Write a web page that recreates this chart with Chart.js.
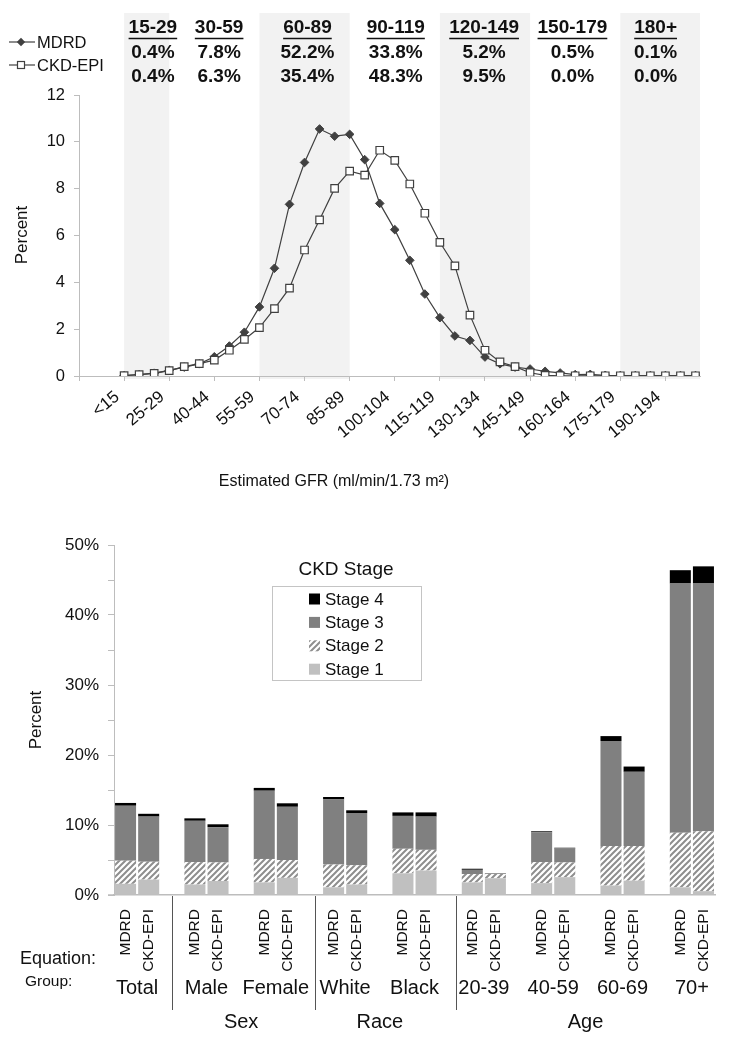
<!DOCTYPE html>
<html>
<head>
<meta charset="utf-8">
<title>eGFR distribution and CKD prevalence</title>
<script src="https://cdn.jsdelivr.net/npm/chart.js@4/dist/chart.umd.min.js"></script>
<style>
  body { margin: 0; background: #fff; }
  canvas { display: block; }
</style>
</head>
<body>
<canvas id="gfrChart" width="738" height="500"></canvas>
<canvas id="ckdChart" width="738" height="550"></canvas>
<script>
// ---- top panel: distribution of estimated GFR ----
const gfrCategories = [
  '<15', '15-19', '20-24', '25-29', '30-34', '35-39', '40-44', '45-49', '50-54', '55-59',
  '60-64', '65-69', '70-74', '75-79', '80-84', '85-89', '90-94', '95-99', '100-104', '105-109',
  '110-114', '115-119', '120-124', '125-129', '130-134', '135-139', '140-144', '145-149', '150-154', '155-159',
  '160-164', '165-169', '170-174', '175-179', '180-184', '185-189', '190-194', '195-199', '200+'
];
const mdrdPct = [
  0.02, 0.06, 0.12, 0.24, 0.38, 0.52, 0.82, 1.28, 1.87, 2.95,
  4.60, 7.33, 9.12, 10.55, 10.24, 10.32, 9.24, 7.37, 6.25, 4.94,
  3.50, 2.49, 1.71, 1.52, 0.81, 0.52, 0.38, 0.30, 0.20, 0.13,
  0.06, 0.07, 0.03, 0.02, 0.02, 0.02, 0.02, 0.02, 0.02
];
const ckdEpiPct = [
  0.02, 0.06, 0.11, 0.23, 0.40, 0.53, 0.68, 1.10, 1.56, 2.07,
  2.88, 3.75, 5.38, 6.67, 8.01, 8.75, 8.58, 9.64, 9.21, 8.20,
  6.95, 5.71, 4.70, 2.60, 1.10, 0.60, 0.40, 0.14, 0.03, 0.01,
  0.01, 0.01, 0.01, 0.01, 0.01, 0.01, 0.01, 0.01, 0.01
];
// share of people in each GFR range (MDRD row, then CKD-EPI row)
const rangeLabels = ['15-29', '30-59', '60-89', '90-119', '120-149', '150-179', '180+'];
const rangeFrom = [15, 30, 60, 90, 120, 150, 180];
const rangeTo = [30, 60, 90, 120, 150, 180, null];
const rangeMdrd = ['0.4%', '7.8%', '52.2%', '33.8%', '5.2%', '0.5%', '0.1%'];
const rangeCkdEpi = ['0.4%', '6.3%', '35.4%', '48.3%', '9.5%', '0.0%', '0.0%'];

// ---- bottom panel: CKD prevalence by group ----
const groupNames = ['Total', 'Male', 'Female', 'White', 'Black', '20-39', '40-59', '60-69', '70+'];
const equationNames = ['MDRD', 'CKD-EPI'];
const stageNames = ['Stage 1', 'Stage 2', 'Stage 3', 'Stage 4'];
const stage1Mdrd = [1.6, 1.5, 1.8, 1.1, 3.1, 1.8, 1.7, 1.35, 1.1];
const stage2Mdrd = [3.3, 3.2, 3.35, 3.25, 3.5, 1.2, 3.0, 5.65, 7.8];
const stage3Mdrd = [7.85, 5.9, 9.75, 9.3, 4.7, 0.6, 4.25, 15.0, 35.6];
const stage4Mdrd = [0.4, 0.35, 0.4, 0.35, 0.5, 0.15, 0.15, 0.7, 1.9];
const stage1CkdEpi = [2.2, 2.0, 2.45, 1.5, 3.5, 2.4, 2.55, 2.05, 0.55];
const stage2CkdEpi = [2.55, 2.65, 2.55, 2.75, 2.95, 0.6, 2.1, 4.95, 8.55];
const stage3CkdEpi = [6.45, 5.05, 7.6, 7.45, 4.75, 0.05, 2.0, 10.6, 35.4];
const stage4CkdEpi = [0.4, 0.4, 0.5, 0.4, 0.6, 0.05, 0.1, 0.75, 2.45];
const superGroups = [
  { label: 'Sex', first: 1, last: 2 },
  { label: 'Race', first: 3, last: 4 },
  { label: 'Age', first: 5, last: 8 }
];

const FONT = '"Liberation Sans", Arial, sans-serif';
Chart.defaults.font.family = FONT;
Chart.defaults.color = '#111';

const LINE_COLOR = '#404040';
const AXIS_COLOR = '#bdbdbd';

// GFR value -> position on the category index axis
function gfrIndex(gfr) {
  return (gfr - 15) / 5;
}

function drawDiamond(ctx, x, y, r) {
  ctx.beginPath();
  ctx.moveTo(x, y - r);
  ctx.lineTo(x + r, y);
  ctx.lineTo(x, y + r);
  ctx.lineTo(x - r, y);
  ctx.closePath();
  ctx.fill();
}

function rangeEdges(chart, i) {
  const x = chart.scales.x;
  const x0 = x.getPixelForValue(gfrIndex(rangeFrom[i]));
  const x1 = rangeTo[i] === null ? chart.chartArea.right : x.getPixelForValue(gfrIndex(rangeTo[i]));
  return [x0, x1];
}

const gfrDecor = {
  id: 'gfrDecor',
  beforeDraw(chart) {
    const { ctx, chartArea } = chart;
    ctx.save();
    ctx.fillStyle = '#f2f2f2';
    rangeLabels.forEach((_, i) => {
      if (i % 2) return;
      const [x0, x1] = rangeEdges(chart, i);
      ctx.fillRect(x0, 13, x1 - x0, chartArea.bottom + 3 - 13);
    });
    ctx.restore();
  },
  afterDraw(chart) {
    const { ctx } = chart;
    ctx.save();

    // range headers with the two shares below (columns sit a little tighter than the bands)
    ctx.textAlign = 'center';
    ctx.textBaseline = 'middle';
    ctx.fillStyle = '#111';
    ctx.strokeStyle = '#111';
    rangeLabels.forEach((label, i) => {
      const [x0, x1] = rangeEdges(chart, i);
      const cx = ((x0 + x1) / 2) * 0.979 + 9.3;
      ctx.font = 'bold 19px ' + FONT;
      ctx.fillText(label, cx, 28);
      const w = ctx.measureText(label).width;
      ctx.lineWidth = 1.6;
      ctx.beginPath();
      ctx.moveTo(cx - w / 2, 38.5);
      ctx.lineTo(cx + w / 2, 38.5);
      ctx.stroke();
      ctx.fillText(rangeMdrd[i], cx, 53);
      ctx.fillText(rangeCkdEpi[i], cx, 77);
    });

    // legend
    ctx.font = '16.5px ' + FONT;
    ctx.textAlign = 'left';
    ctx.strokeStyle = LINE_COLOR;
    ctx.lineWidth = 1.2;
    [42, 65].forEach((ly, i) => {
      ctx.beginPath();
      ctx.moveTo(9, ly);
      ctx.lineTo(35, ly);
      ctx.stroke();
      if (i === 0) {
        ctx.fillStyle = LINE_COLOR;
        drawDiamond(ctx, 21, ly, 4.2);
      } else {
        ctx.fillStyle = '#fff';
        ctx.fillRect(17.5, ly - 3.5, 7, 7);
        ctx.strokeRect(17.5, ly - 3.5, 7, 7);
      }
      ctx.fillStyle = '#111';
      ctx.fillText(equationNames[i], 37, ly + 1);
    });

    // axis titles
    ctx.font = '17px ' + FONT;
    ctx.textAlign = 'center';
    ctx.save();
    ctx.translate(22, 235);
    ctx.rotate(-Math.PI / 2);
    ctx.fillText('Percent', 0, 0);
    ctx.restore();
    ctx.font = '16px ' + FONT;
    ctx.fillText('Estimated GFR (ml/min/1.73 m²)', 334, 482);
    ctx.restore();
  }
};

new Chart(document.getElementById('gfrChart'), {
  type: 'line',
  data: {
    datasets: [
      {
        label: 'MDRD',
        data: mdrdPct.map((v, i) => ({ x: i, y: v })),
        borderColor: LINE_COLOR,
        borderWidth: 1.2,
        pointStyle: 'rectRot',
        pointRadius: 4.3,
        pointBackgroundColor: LINE_COLOR,
        pointBorderColor: LINE_COLOR,
        pointBorderWidth: 1,
        order: 2
      },
      {
        label: 'CKD-EPI',
        data: ckdEpiPct.map((v, i) => ({ x: i, y: v })),
        borderColor: LINE_COLOR,
        borderWidth: 1.2,
        pointStyle: 'rect',
        pointRadius: 5.3,
        pointBackgroundColor: '#fff',
        pointBorderColor: LINE_COLOR,
        pointBorderWidth: 1.2,
        order: 1
      }
    ]
  },
  options: {
    responsive: false,
    animation: false,
    layout: { padding: { top: 95, right: 38, left: 0, bottom: 0 } },
    plugins: { legend: { display: false }, tooltip: { enabled: false } },
    scales: {
      x: {
        type: 'linear',
        min: -3,
        max: 38.3,
        afterFit: (scale) => { scale.height = 124; },
        grid: { drawOnChartArea: false, drawTicks: true, tickLength: 5, color: AXIS_COLOR },
        border: { color: AXIS_COLOR },
        ticks: {
          stepSize: 3,
          includeBounds: false,
          autoSkip: false,
          minRotation: 40,
          maxRotation: 40,
          padding: 6,
          labelOffset: -7,
          font: { size: 17 },
          color: '#111',
          callback: (value) => gfrCategories[value] ?? ''
        }
      },
      y: {
        min: 0,
        max: 12,
        afterFit: (scale) => { scale.width = 79; },
        grid: { drawOnChartArea: false, drawTicks: true, tickLength: 5, color: AXIS_COLOR },
        border: { color: AXIS_COLOR },
        ticks: { stepSize: 2, padding: 9, font: { size: 16.5 }, color: '#111' }
      }
    }
  },
  plugins: [gfrDecor]
});

// ---- bottom chart ----
const ckdCanvas = document.getElementById('ckdChart');

function makeHatch(ctx) {
  const tile = document.createElement('canvas');
  tile.width = 6;
  tile.height = 6;
  const g = tile.getContext('2d');
  g.fillStyle = '#fff';
  g.fillRect(0, 0, 6, 6);
  g.strokeStyle = '#8e8e8e';
  g.lineWidth = 2;
  g.beginPath();
  g.moveTo(-1, 7); g.lineTo(7, -1);
  g.moveTo(-4, 4); g.lineTo(4, -4);
  g.moveTo(2, 10); g.lineTo(10, 2);
  g.stroke();
  return ctx.createPattern(tile, 'repeat');
}

const hatch = makeHatch(ckdCanvas.getContext('2d'));
const stageColors = ['#c0c0c0', hatch, '#808080', '#000000'];

// one slot per bar, with an empty slot between groups
const slotLabels = [];
groupNames.forEach((_, g) => {
  slotLabels.push(equationNames[0], equationNames[1]);
  if (g < groupNames.length - 1) slotLabels.push('');
});

function toSlots(mdrd, ckdEpi) {
  const out = [];
  groupNames.forEach((_, g) => {
    out.push(mdrd[g], ckdEpi[g]);
    if (g < groupNames.length - 1) out.push(null);
  });
  return out;
}

const stageData = [
  toSlots(stage1Mdrd, stage1CkdEpi),
  toSlots(stage2Mdrd, stage2CkdEpi),
  toSlots(stage3Mdrd, stage3CkdEpi),
  toSlots(stage4Mdrd, stage4CkdEpi)
];

// where the vertical dividers below the axis sit (slot index)
const dividerSlots = [2, 8.2, 14.3];

const ckdDecor = {
  id: 'ckdDecor',
  afterDraw(chart) {
    const { ctx, chartArea, scales: { x } } = chart;
    const pairCenter = (g) => (x.getPixelForValue(g * 3) + x.getPixelForValue(g * 3 + 1)) / 2;
    ctx.save();
    ctx.fillStyle = '#111';
    ctx.textBaseline = 'middle';

    // legend
    ctx.strokeStyle = '#c4c4c4';
    ctx.lineWidth = 1;
    ctx.strokeRect(272.5, 86.5, 149, 94);
    ctx.textAlign = 'center';
    ctx.font = '19px ' + FONT;
    ctx.fillText('CKD Stage', 346, 70);
    ctx.textAlign = 'left';
    ctx.font = '17px ' + FONT;
    [3, 2, 1, 0].forEach((s, row) => {
      const ly = 99 + row * 23.4;
      ctx.fillStyle = stageColors[s];
      ctx.fillRect(309, ly - 5.5, 11, 11);
      ctx.fillStyle = '#111';
      ctx.fillText(stageNames[s], 325, ly + 1);
    });

    // y title
    ctx.textAlign = 'center';
    ctx.save();
    ctx.translate(36, 220);
    ctx.rotate(-Math.PI / 2);
    ctx.fillText('Percent', 0, 0);
    ctx.restore();

    // x axis line runs a little past the y axis
    ctx.strokeStyle = AXIS_COLOR;
    ctx.lineWidth = 1.5;
    ctx.beginPath();
    ctx.moveTo(108, chartArea.bottom);
    ctx.lineTo(chartArea.left, chartArea.bottom);
    ctx.stroke();

    // dividers
    ctx.strokeStyle = '#555';
    ctx.lineWidth = 1;
    dividerSlots.forEach((s) => {
      const dx = Math.round(x.getPixelForValue(s)) + 0.5;
      ctx.beginPath();
      ctx.moveTo(dx, chartArea.bottom + 1);
      ctx.lineTo(dx, 510);
      ctx.stroke();
    });

    // group labels
    ctx.font = '20px ' + FONT;
    groupNames.forEach((name, g) => {
      ctx.fillText(name, pairCenter(g), 488);
    });
    superGroups.forEach((sg) => {
      let cx = (pairCenter(sg.first) + pairCenter(sg.last)) / 2;
      if (sg.label === 'Age') cx = (x.getPixelForValue(dividerSlots[2]) + chartArea.right) / 2;
      ctx.fillText(sg.label, cx, 522);
    });

    // row captions
    ctx.textAlign = 'left';
    ctx.font = '18px ' + FONT;
    ctx.fillText('Equation:', 20, 459);
    ctx.font = '15.5px ' + FONT;
    ctx.fillText('Group:', 25, 482);
    ctx.restore();
  }
};

new Chart(ckdCanvas, {
  type: 'bar',
  data: {
    labels: slotLabels,
    datasets: stageNames.map((name, s) => ({
      label: name,
      data: stageData[s],
      backgroundColor: stageColors[s],
      borderWidth: 0,
      categoryPercentage: 1,
      barPercentage: 0.91
    }))
  },
  options: {
    responsive: false,
    animation: false,
    layout: { padding: { top: 45, right: 23, left: 0, bottom: 0 } },
    plugins: { legend: { display: false }, tooltip: { enabled: false } },
    scales: {
      x: {
        stacked: true,
        afterFit: (scale) => { scale.height = 155; },
        grid: { display: false },
        border: { color: AXIS_COLOR, width: 1.5 },
        ticks: {
          autoSkip: false,
          minRotation: 90,
          maxRotation: 90,
          padding: 6,
          font: { size: 15.5 },
          color: '#111'
        }
      },
      y: {
        stacked: true,
        min: 0,
        max: 50,
        afterFit: (scale) => { scale.width = 114; },
        grid: { drawOnChartArea: false, drawTicks: true, tickLength: 6, color: AXIS_COLOR },
        border: { color: AXIS_COLOR },
        ticks: {
          stepSize: 5,
          padding: 9,
          font: { size: 17 },
          color: '#111',
          callback: (v) => (v % 10 === 0 ? v + '%' : '')
        }
      }
    }
  },
  plugins: [ckdDecor]
});
</script>
</body>
</html>
